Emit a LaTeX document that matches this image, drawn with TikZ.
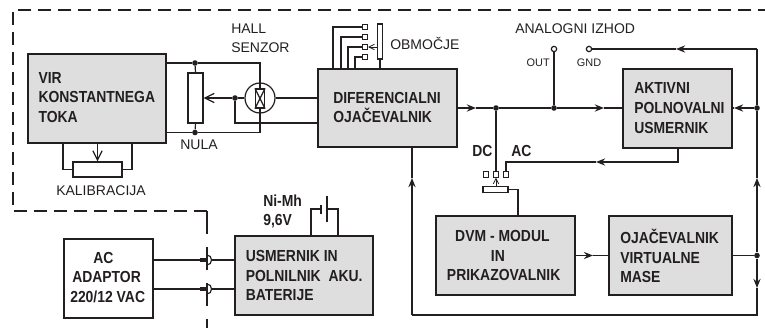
\documentclass[tikz,border=0pt]{standalone}
\usepackage{fontspec}
\setmainfont{Liberation Sans}
\newfontfamily\blockfont[FakeStretch=0.87]{Liberation Sans}
\usepackage{xcolor}
\usetikzlibrary{arrows.meta}
\definecolor{ink}{HTML}{231F20}
\definecolor{boxgray}{HTML}{DEDEDE}
\tikzset{
  wire/.style={draw=ink,line width=0.9pt},
  fatwire/.style={draw=ink,line width=1.2pt},
  border/.style={draw=ink,line width=1.4pt,dash pattern=on 9.75pt off 5.25pt},
  graybox/.style={draw=ink,line width=1.3pt,fill=boxgray,inner sep=0pt},
  blocktext/.style={inner sep=0pt,text=ink,align=left,font=\blockfont\fontsize{12}{14.8}\selectfont\bfseries},
  potbox/.style={draw=ink,line width=0.9pt,fill=white,inner sep=0pt},
  term/.style={draw=ink,line width=0.8pt,fill=white,inner sep=0pt,minimum size=4pt},
  jackdot/.style={circle,fill=ink,inner sep=0pt,minimum size=4.2pt},
  pin/.style={circle,draw=ink,line width=0.9pt,fill=white,inner sep=0pt,minimum size=4pt},
  lab/.style={inner sep=0pt,text=ink,font=\fontsize{10.5}{14}\selectfont},
  boldlab/.style={inner sep=0pt,text=ink,font=\blockfont\fontsize{12}{14}\selectfont\bfseries},
  tinylab/.style={inner sep=0pt,text=ink,font=\fontsize{8.2}{10}\selectfont},
  barb/.style={-{Straight Barb[length=#1,width=#1]}},
}
\begin{document}
\begin{tikzpicture}[x=0.75pt,y=-0.75pt,>={Stealth[length=7pt,width=5.5pt,inset=2.6pt]}]
\useasboundingbox (0,0) rectangle (765,328);
% boundary
\draw[border] (207,211)--(13,211)--(13,10)--(765,10);
\draw[border,dash pattern=on 17pt off 10pt] (207,211)--(207,328);
% blocks
\node[graybox,minimum width=103.5pt,minimum height=66.75pt] (vir) at (97,98.5) {};
\node[graybox,minimum width=104.25pt,minimum height=58.5pt] (dif) at (387.5,108) {};
\node[graybox,minimum width=81.75pt,minimum height=59.25pt] (aktiv) at (677.5,108.5) {};
\node[graybox,minimum width=104.25pt,minimum height=59.25pt] (dvm) at (505.5,255.5) {};
\node[graybox,minimum width=92.25pt,minimum height=59.25pt] (ojac) at (670.5,255.5) {};
\node[graybox,fill=white,minimum width=66.75pt,minimum height=59.25pt] (adapter) at (108.5,278.5) {};
\node[graybox,minimum width=103.5pt,minimum height=59.25pt] (usm) at (304,275.5) {};
\node[blocktext,anchor=west] (tvir) at (38.3,97.5) {VIR\\KONSTANTNEGA\\TOKA};
\node[blocktext,anchor=west] (tdif) at (333,107.5) {DIFERENCIALNI\\OJAČEVALNIK};
\node[blocktext,anchor=west] (taktiv) at (634,108) {AKTIVNI\\POLNOVALNI\\USMERNIK};
\node[blocktext,anchor=west] (tdvm) at (446.7,255.5) {\hspace*{6.2pt}DVM - MODUL\\\hspace*{33pt}IN\\PRIKAZOVALNIK};
\node[blocktext,anchor=west] (tojac) at (620,256) {OJAČEVALNIK\\VIRTUALNE\\MASE};
\node[blocktext,anchor=west] (tadapter) at (70,277.5) {\hspace*{17.25pt}AC\\\hspace*{1.5pt}ADAPTOR\\220/12 VAC};
\node[blocktext,anchor=west] (tusm) at (245.5,275.5) {USMERNIK IN\\POLNILNIK\ \ AKU.\\BATERIJE};
% hall sensor
\node[circle,draw=ink,line width=0.9pt,minimum size=22.5pt,inner sep=0pt] (hall) at (260,98) {};
\node[draw=ink,line width=1.1pt,minimum width=6.5pt,minimum height=14pt,inner sep=0pt] (hallx) at (260,98.5) {};
\draw[wire] (hallx.north west)--(hallx.south east) (hallx.north east)--(hallx.south west);
\node[potbox,minimum width=11.25pt,minimum height=37.5pt] (potnula) at (195.5,98) {};
\node[potbox,minimum width=36.75pt,minimum height=11.25pt] (potkal) at (97.5,169.5) {};
\node[jackdot] (dota) at (195,63) {};
\node[jackdot] (dotb) at (195,132.5) {};
\node[jackdot] (dotc) at (235,98) {};
\coordinate (kala) at (63,170);
\coordinate (kalb) at (132,170);
\coordinate (difa) at (318,123);
\draw[wire] (vir.east |- dota)--(dota) -| (hallx.north);
\draw[wire] (vir.east |- dotb)--(dotb) -| (hallx.south);
\draw[wire] (dota)--(potnula.north) (dotb)--(potnula.south);
\draw[wire,barb=7pt] (dotc)--(potnula.east);
\draw[wire] (hall.west)--(dotc);
\draw[fatwire] (dotc) |- (difa);
\draw[wire] (hall.east)--(hall.east -| dif.west);
\draw[wire] (vir.south -| kala) |- (potkal.west);
\draw[wire] (vir.south -| kalb) |- (potkal.east);
\draw[wire,barb=7pt] (vir.south -| potkal.north)--(potkal.north);
% range switch
\foreach \n/\y/\x in {a/27/333,b/37/341,c/47/348,d/57/355}{
  \node[term] (obm\n) at (365,\y) {};
  \draw[wire] (dif.north -| \x,0) |- (obm\n.west);
}
\node[potbox,minimum width=3.75pt,minimum height=26.25pt] (potobm) at (380,41.5) {};
\draw[wire] (potobm.south)--(dif.north -| potobm.south);
\draw[line width=0.6pt,draw=ink,barb=4pt] (potobm.west |- obmc)--(obmc.east);
% signal path
\node[jackdot] (dotd) at (496,108) {};
\node[jackdot] (dote) at (554,108) {};
\node[jackdot] (dotf) at (757,108) {};
\node[jackdot] (dotg) at (757,255.5) {};
\node[pin] (pinout) at (554,49) {};
\node[pin] (pingnd) at (589,49) {};
\node[term] (swl) at (486,174.5) {};
\node[term] (swdc) at (496,174.5) {};
\node[term] (swac) at (506,174.5) {};
\node[potbox,minimum width=18.75pt,minimum height=4pt] (potsw) at (495.5,189.5) {};
\coordinate (ma) at (476,108);
\coordinate (mb) at (604,108);
\coordinate (mc) at (596,162);
\coordinate (md) at (593,255.5);
\coordinate (me) at (734,108);
\coordinate (mf) at (676,49);
\coordinate (mg) at (757,178);
\coordinate (mh) at (757,288);
\coordinate (mi) at (412,178);
\coordinate (topr) at (757,49);
\coordinate (botr) at (757,315);
\coordinate (botl) at (412,315);
\draw[fatwire,->] (dif.east |- dotd)--(ma);
\draw[fatwire] (ma)--(dotd)--(dote);
\draw[fatwire,->] (dote)--(mb);
\draw[fatwire] (mb)--(aktiv.west |- dote);
\draw[wire] (dotd)--(swdc.north);
\draw[wire] (dote)--(pinout);
\draw[wire,->] (aktiv.south -| 678,0) |- (mc);
\draw[wire] (mc) -| (swac.north);
\draw[line width=0.6pt,draw=ink,barb=4pt] (potsw.north -| swdc)--(swdc.south);
\draw[wire] (potsw.east) -| (dvm.north -| 518,0);
\draw[wire,->] (dvm.east)--(md);
\draw[wire] (md)--(ojac.west);
\draw[wire] (ojac.east)--(dotg);
\draw[wire,->] (dotf)--(me);
\draw[wire] (me)--(aktiv.east |- dotf);
\draw[wire,->] (topr)--(mf);
\draw[wire] (mf)--(pingnd);
\draw[wire] (topr)--(dotf);
\draw[wire] (dotf)--(mg);
\draw[wire,<-] (mg)--(dotg);
\draw[wire,->] (dotg)--(mh);
\draw[wire] (mh)--(botr)--(botl);
\draw[fatwire,->] (botl)--(mi);
\draw[fatwire] (mi)--(dif.south -| mi);
% charger
\foreach \n/\y in {a/260,b/289}{
  \coordinate (jack\n) at (207,\y);
  \draw[wire] (adapter.east |- jack\n)--(jack\n);
  \draw[ink,line width=2.6pt] (200,\y)--(jack\n);
  \draw[wire] (207,\y-5) .. controls (213,\y-5) and (213,\y+5) .. (207,\y+5);
  \draw[wire] (211.5,\y)--(usm.west |- jack\n);
}
\coordinate (bata) at (321,209);
\coordinate (batb) at (327,209);
\coordinate (batc) at (321,205);
\coordinate (batd) at (321,214);
\coordinate (bate) at (327,196);
\coordinate (batf) at (327,222);
\draw[wire] (usm.north -| 311,0) |- (bata);
\draw[wire] (usm.north -| 338,0) |- (batb);
\draw[fatwire] (batc)--(batd) (bate)--(batf);
% labels
\node[lab,anchor=west] (lhall) at (231,29) {HALL};
\node[lab,anchor=west] (lsenzor) at (231,48) {SENZOR};
\node[lab] (lnula) at (199,145) {NULA};
\node[lab] (lkal) at (101,191) {KALIBRACIJA};
\node[lab,anchor=west] (lobm) at (390,43) {OBMOČJE};
\node[lab,anchor=west] (lizhod) at (515,29) {ANALOGNI IZHOD};
\node[tinylab,anchor=east] (lout) at (550,63) {OUT};
\node[tinylab] (lgnd) at (589,63) {GND};
\node[boldlab,anchor=west] (ldc) at (472,151) {DC};
\node[boldlab,anchor=west] (lac) at (511,151) {AC};
\node[boldlab,anchor=west] (lni) at (263,201) {Ni-Mh};
\node[boldlab,anchor=west] (lvolt) at (263,221) {9,6V};
\end{tikzpicture}
\end{document}
